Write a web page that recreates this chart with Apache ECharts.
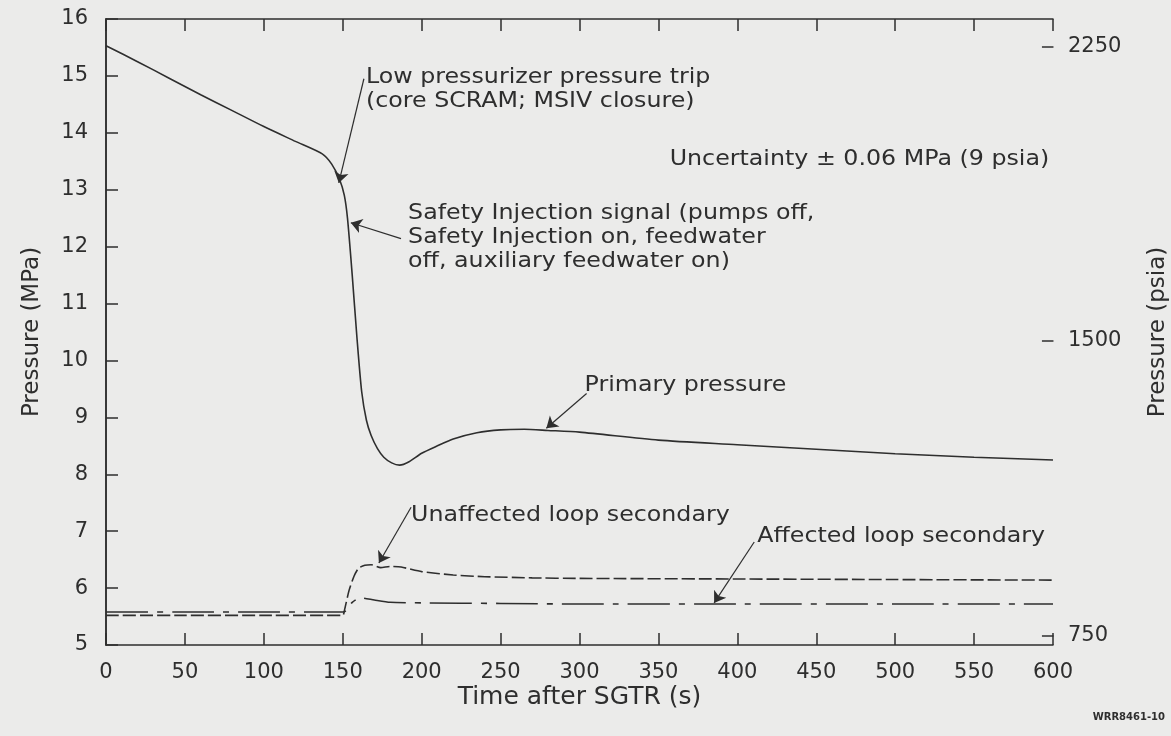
<!DOCTYPE html>
<html><head><meta charset="utf-8">
<script src="https://cdn.jsdelivr.net/npm/echarts@6/dist/echarts.min.js"></script>
<style>html,body{margin:0;padding:0;background:#ebebea;} #c{width:1171px;height:736px;}</style>
</head><body><div id="c"></div>
<script>
// ---- data (time in s, pressure in MPa) ----
const primaryTime = [0,20,40,60,80,100,120,137,143,148,151,153,156,159,162,165,168,172,176,181,186,192,200,210,220,235,250,265,280,300,350,400,450,500,550,600];
const primaryMPa  = [15.53,15.25,14.96,14.67,14.39,14.11,13.85,13.63,13.45,13.18,12.9,12.5,11.5,10.4,9.45,8.95,8.68,8.45,8.3,8.2,8.16,8.22,8.37,8.5,8.62,8.73,8.78,8.79,8.77,8.74,8.6,8.52,8.44,8.36,8.3,8.25];
const unaffectedTime = [0,50,100,150,151,154,157,160,164,168,174,180,187,200,220,240,270,300,400,500,600];
const unaffectedMPa  = [5.52,5.52,5.52,5.52,5.6,5.96,6.2,6.35,6.4,6.41,6.36,6.38,6.37,6.29,6.23,6.2,6.18,6.17,6.16,6.15,6.14];
const affectedTime = [0,50,100,150,152,156,161,170,180,200,250,300,400,500,600];
const affectedMPa  = [5.58,5.58,5.58,5.58,5.6,5.75,5.83,5.79,5.75,5.74,5.73,5.72,5.72,5.72,5.72];
const psiaTicks = [750,1500,2250];
const MPA_TO_PSIA = 145.038;
// annotation arrows: [fromT, fromP, toT, toP]
const arrows = [
  [163.4,14.95,147.5,13.12],
  [186.9,12.14,155.1,12.42],
  [304.5,9.42,279,8.81],
  [193.3,7.42,172.9,6.44],
  [410.7,6.81,385.3,5.74]
];
// annotation texts: [t, p (top of first line), text, align]
const notes = [
  [164.7,15.18,'Low pressurizer pressure trip\n(core SCRAM; MSIV closure)','left'],
  [597.6,13.74,'Uncertainty \u00b1 0.06 MPa (9 psia)','right'],
  [191.4,12.79,'Safety Injection signal (pumps off,\nSafety Injection on, feedwater\noff, auxiliary feedwater on)','left'],
  [303.2,9.77,'Primary pressure','left'],
  [193.3,7.49,'Unaffected loop secondary','left'],
  [412.6,7.11,'Affected loop secondary','left']
];

const INK = '#2e2e2e';
const FONT = 'DejaVu Sans';
const X_MAX = 600;
const RIGHT_TICK_LEN_S = 7.0; // inward tick length on the psia axis, in seconds of the time axis
const zip = (a,b)=>a.map((v,i)=>[v,b[i]]);
const chart = echarts.init(document.getElementById('c'), null, {renderer:'canvas'});
const line = {show:true,lineStyle:{color:INK,width:1.5}};
const tick = {show:true,inside:true,length:12,lineStyle:{color:INK,width:1.5}};
const lab = (m)=>({color:INK,fontFamily:FONT,fontSize:21,margin:m});
const nameStyle = (s)=>({color:INK,fontFamily:FONT,fontSize:s});
const option = {
  backgroundColor:'#ebebea',
  animation:false,
  grid:{left:106,right:118,top:19,bottom:91,containLabel:false,outerBoundsMode:'none'},
  xAxis:[
    {type:'value',min:0,max:X_MAX,interval:50,position:'bottom',
      name:'Time after SGTR (s)',nameLocation:'middle',nameGap:40,nameMoveOverlap:false,nameTextStyle:nameStyle(25),
      axisLine:line,axisTick:tick,splitLine:{show:false},axisLabel:lab(17)},
    {type:'value',min:0,max:X_MAX,interval:50,position:'top',
      axisLine:line,axisTick:tick,splitLine:{show:false},axisLabel:{show:false}}
  ],
  yAxis:[
    {type:'value',min:5,max:16,interval:1,position:'left',
      name:'Pressure (MPa)',nameLocation:'middle',nameGap:62,nameRotate:90,nameTextStyle:nameStyle(23),
      axisLine:line,axisTick:tick,splitLine:{show:false},axisLabel:lab(18)},
    {type:'value',min:5*MPA_TO_PSIA,max:16*MPA_TO_PSIA,position:'right',
      name:'Pressure (psia)',nameLocation:'middle',nameGap:94,nameRotate:90,nameTextStyle:nameStyle(23),
      axisLine:line,axisTick:{show:false},splitLine:{show:false},
      axisLabel:Object.assign(lab(15),{customValues:psiaTicks,formatter:(v)=>String(Math.round(v))})}
  ],
  series:[
    {name:'Primary pressure',type:'line',xAxisIndex:0,yAxisIndex:0,data:zip(primaryTime,primaryMPa),
     showSymbol:false,smooth:0.25,lineStyle:{color:INK,width:1.6}},
    {name:'Unaffected loop secondary',type:'line',xAxisIndex:0,yAxisIndex:0,data:zip(unaffectedTime,unaffectedMPa),
     showSymbol:false,smooth:0.2,lineStyle:{color:INK,width:1.6,type:[13,4]}},
    {name:'Affected loop secondary',type:'line',xAxisIndex:0,yAxisIndex:0,data:zip(affectedTime,affectedMPa),
     showSymbol:false,smooth:0.2,lineStyle:{color:INK,width:1.6,type:[42,9,6,9]}},
    {type:'lines',coordinateSystem:'cartesian2d',xAxisIndex:0,yAxisIndex:0,
     symbol:['none','arrow'],symbolSize:[0,11],silent:true,
     lineStyle:{color:INK,width:1.2,opacity:1},
     data:arrows.map(a=>({coords:[[a[0],a[1]],[a[2],a[3]]]}))},
    // inward ticks of the psia axis
    {type:'lines',coordinateSystem:'cartesian2d',xAxisIndex:0,yAxisIndex:1,silent:true,
     lineStyle:{color:INK,width:1.5,opacity:1},
     data:psiaTicks.map(v=>({coords:[[X_MAX-RIGHT_TICK_LEN_S,v],[X_MAX+0.3,v]]}))}
  ]
};
chart.setOption(option);
const g = notes.map(n=>{
  const p = chart.convertToPixel({xAxisIndex:0,yAxisIndex:0},[n[0],n[1]]);
  return {type:'text',x:p[0],y:p[1],scaleX:1.13,style:{text:n[2],fill:INK,font:'21px "DejaVu Sans"',
    lineHeight:24,align:n[3],verticalAlign:'top'}};
});
g.push({type:'text',right:6,bottom:14,style:{text:'WRR8461-10',fill:INK,font:'bold 10px "DejaVu Sans"'}});
chart.setOption({graphic:g});
</script></body></html>
